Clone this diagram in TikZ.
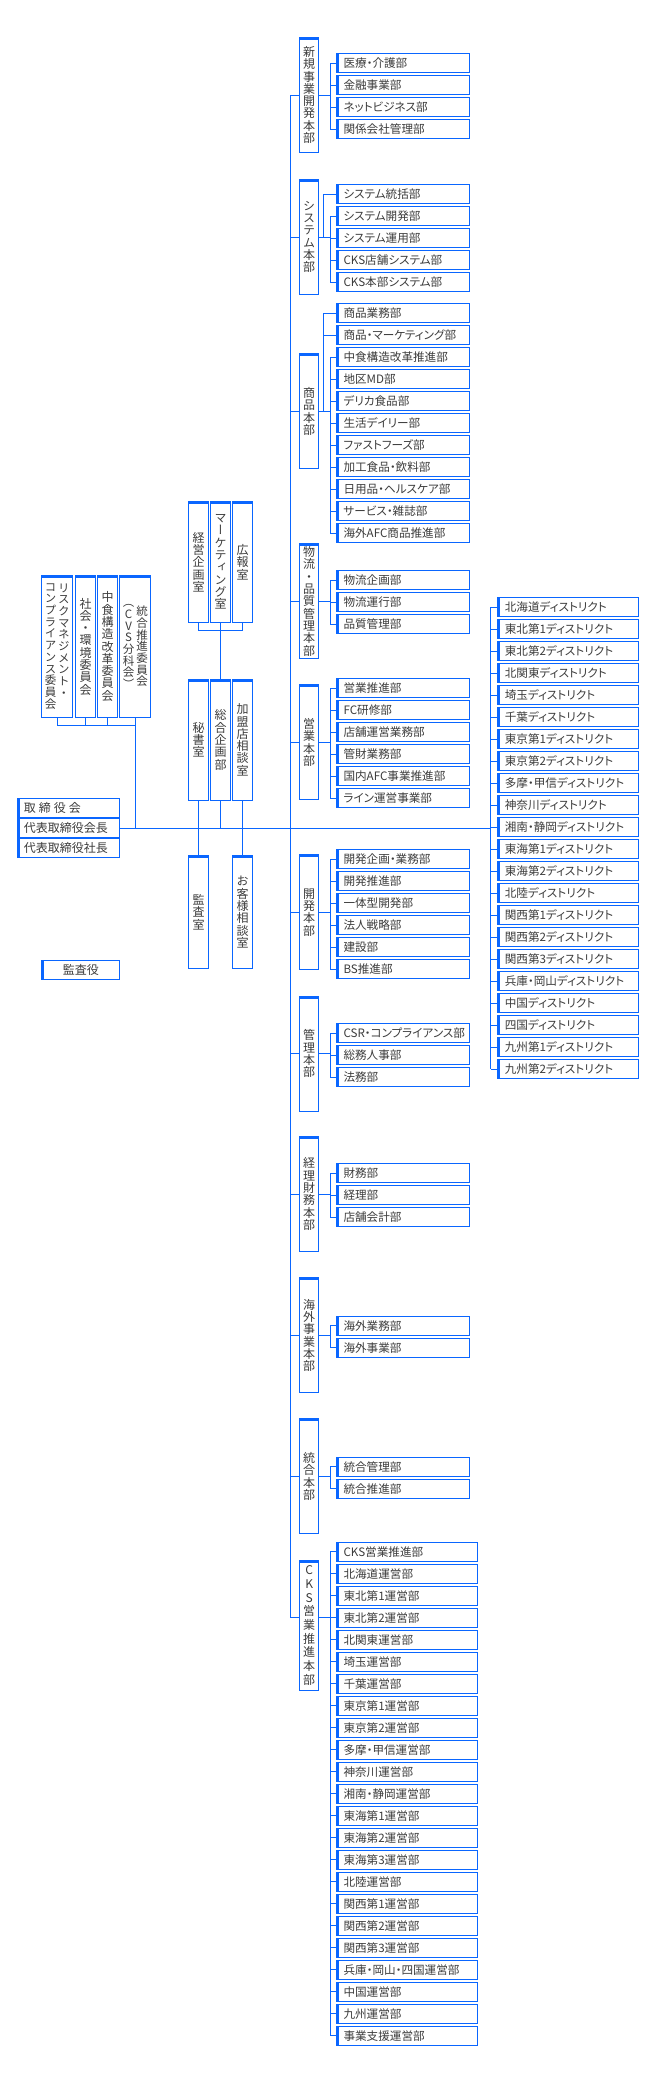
\documentclass[tikz,border=0pt]{standalone}
\usepackage{fontspec}
\usetikzlibrary{positioning}
\newfontfamily\jpfont[RawFeature={+palt}]{Noto Sans CJK JP}
\newfontfamily\vjpfont[RawFeature={+vert}]{Noto Sans CJK JP}
\definecolor{orgblue}{HTML}{0A66FF}
\definecolor{orggray}{HTML}{3C3C3C}

\begin{document}
\begin{tikzpicture}[x=1pt,y=-1pt,
    dept/.style={draw=orgblue,line width=1pt,anchor=north west,minimum height=19pt,
      text width=119pt,inner xsep=7pt,inner ysep=0pt,align=left,text=orggray,
      font=\jpfont\fontsize{11.6}{14}\selectfont,
      path picture={\fill[orgblue] (path picture bounding box.south west)
        rectangle ([xshift=2.5pt]path picture bounding box.north west);}},
    wide/.style={dept,text width=127.3pt},
    board/.style={dept,text width=89.2pt,inner xsep=6.7pt,font=\jpfont\fontsize{12}{14}\selectfont},
    vbox/.style={draw=orgblue,line width=1pt,anchor=north west,minimum width=19.4pt,
      inner sep=0pt,align=center,text=orggray,font=\vjpfont\fontsize{12}{12.3}\selectfont,
      path picture={\fill[orgblue] (path picture bounding box.north west)
        rectangle ([yshift=-2.5pt]path picture bounding box.north east);}},
    hq/.style={vbox,minimum height=115pt},
    vtext/.style={inner sep=0pt,align=center,text=orggray,font=\vjpfont\fontsize{11.5}{11.7}\selectfont},
    link/.style={draw=orgblue,line width=1pt}
  ]
    \fill[white] (0,0) rectangle (670,2075);
    \useasboundingbox (0,0) rectangle (670,2075);
    \coordinate (spine) at (290,0);
    \coordinate (bus) at (330,0);
    \coordinate (subbus) at (323.8,0);
    \coordinate (dbus) at (490.7,0);

    % board and auditor
    \node[board] (board1) at (16.7,798.3) {取\hspace{3pt}締\hspace{3pt}役\hspace{3pt}会};
    \node[board,below=0pt of board1] (board2) {代表取締役会長};
    \node[board,below=0pt of board2] (board3) {代表取締役社長};
    \node[board,text width=64.6pt,align=center] (auditor) at (41.3,960.3) {監査役};

    % committees
    \node[vbox,minimum width=31pt,minimum height=142.6pt] (riskc) at (41.3,574.7) {};
    \node[vtext,anchor=north] (riskc-r) at ([xshift=6.5pt,yshift=-8.5pt]riskc.north)
      {リ\\ス\\ク\\マ\\ネ\\ジ\\メ\\ン\\ト\\・};
    \node[vtext,anchor=north] (riskc-l) at ([xshift=-6.8pt,yshift=-8.5pt]riskc.north)
      {コ\\ン\\プ\\ラ\\イ\\ア\\ン\\ス\\委\\員\\会};
    \node[vbox,minimum height=142.6pt] (socialc) at (75.3,574.7) {社\\会\\・\\環\\境\\委\\員\\会};
    \node[vbox,minimum height=142.6pt] (reformc) at (97.3,574.7) {中\\食\\構\\造\\改\\革\\委\\員\\会};
    \node[vbox,minimum width=31pt,minimum height=142.6pt] (mergec) at (119.3,574.7) {};
    \node[vtext] (mergec-r) at ([xshift=6.7pt]mergec.center) {統\\合\\推\\進\\委\\員\\会};
    \node[vtext] (mergec-l) at ([xshift=-6.7pt]mergec.center) {（\\C\\V\\S\\分\\科\\会\\）};
    \draw[link] (riskc.south) -- ++(0,7) -| (mergec.south);
    \draw[link] (socialc.south) -- ++(0,7);
    \draw[link] (reformc.south) -- ++(0,7);
    \draw[link] (mergec.south) -- (mergec.south |- board2.east);

    % staff offices
    \node[vbox,minimum height=121.6pt] (planoff) at (188.3,500.7) {経\\営\\企\\画\\室};
    \node[vbox,minimum height=121.6pt] (mktoff) at (210.3,500.7) {マ\\ー\\ケ\\テ\\ィ\\ン\\グ\\室};
    \node[vbox,minimum height=121.6pt] (proff) at (232.3,500.7) {広\\報\\室};
    \node[vbox,minimum height=121.3pt] (secoff) at (188.3,678.7) {秘\\書\\室};
    \node[vbox,minimum height=121.3pt] (corpplan) at (210.3,678.7) {総\\合\\企\\画\\部};
    \node[vbox,minimum height=121.3pt] (fcoff) at (232.3,678.7) {加\\盟\\店\\相\\談\\室};
    \node[vbox,minimum height=113.3pt] (auditoff) at (188.3,855) {監\\査\\室};
    \node[vbox,minimum height=113.3pt] (custoff) at (232.3,855) {お\\客\\様\\相\\談\\室};
    \draw[link] (planoff.south) -- ++(0,7) -| (proff.south);
    \draw[link] (mktoff.south) -- (corpplan.north);
    \draw[link] (secoff.south) -- (auditoff.north);
    \draw[link] (corpplan.south) -- (corpplan.south |- board2.east);
    \draw[link] (fcoff.south) -- (custoff.north);

    \draw[link] (board2.east) -- (board2.east -| dbus);

    % headquarters
    \node[hq] (nbhq) at (299,37) {新\\規\\事\\業\\開\\発\\本\\部};
    \node[hq] (syhq) at (299,179) {シ\\ス\\テ\\ム\\本\\部};
    \node[hq] (shhq) at (299,353.3) {商\\品\\本\\部};
    \node[hq] (bthq) at (299,543.3) {物\\流\\・\\品\\質\\管\\理\\本\\部};
    \node[hq] (eghq) at (299,684.3) {営\\業\\本\\部};
    \node[hq] (khhq) at (299,854.3) {開\\発\\本\\部};
    \node[hq] (krhq) at (299,995.7) {管\\理\\本\\部};
    \node[hq] (kzhq) at (299,1136) {経\\理\\財\\務\\本\\部};
    \node[hq] (kghq) at (299,1277.3) {海\\外\\事\\業\\本\\部};
    \node[hq] (tghq) at (299,1418.3) {統\\合\\本\\部};
    \node[hq,minimum height=130pt,font=\vjpfont\fontsize{12}{13.7}\selectfont] (ckhq) at (299,1560)
      {C\\K\\S\\営\\業\\推\\進\\本\\部};

    \coordinate (ckjoin) at ([yshift=7.7pt]ckhq.west);
    \coordinate (ckout) at ([yshift=7.7pt]ckhq.east);
    \draw[link] (nbhq.west) -- (nbhq.west -| spine) -- (ckjoin -| spine) -- (ckjoin);
    \foreach \h in {syhq,shhq,bthq,eghq,khhq,krhq,kzhq,kghq,tghq}
      \draw[link] (\h.west) -- (\h.west -| spine);
    \foreach \h in {nbhq,syhq,shhq,bthq,eghq,khhq,krhq,kzhq,kghq,tghq}
      \draw[link] (\h.east) -- (\h.east -| bus);
    \draw[link] (ckout) -- (ckout -| bus);

    % departments
    \foreach \lbl [count=\i] in {医療・介護部,金融事業部,ネットビジネス部,関係会社管理部}
      \node[dept] (nb-\i) at (336,{53.3+22*(\i-1)}) {\lbl};
    \foreach \lbl [count=\i] in {システム統括部,システム開発部,システム運用部,CKS店舗システム部,CKS本部システム部}
      \node[dept] (sy-\i) at (336,{184+22*(\i-1)}) {\lbl};
    \foreach \lbl [count=\i] in {商品業務部,商品・マーケティング部,中食構造改革推進部,地区MD部,デリカ食品部,
        生活デイリー部,ファストフーズ部,加工食品・飲料部,日用品・ヘルスケア部,サービス・雑誌部,海外AFC商品推進部}
      \node[dept] (sh-\i) at (336,{303.3+22*(\i-1)}) {\lbl};
    \foreach \lbl [count=\i] in {物流企画部,物流運行部,品質管理部}
      \node[dept] (bt-\i) at (336,{570+22*(\i-1)}) {\lbl};
    \foreach \lbl [count=\i] in {営業推進部,FC研修部,店舗運営業務部,管財業務部,国内AFC事業推進部,ライン運営事業部}
      \node[dept] (eg-\i) at (336,{678.3+22*(\i-1)}) {\lbl};
    \foreach \lbl [count=\i] in {開発企画・業務部,開発推進部,一体型開発部,法人戦略部,建設部,BS推進部}
      \node[dept] (kh-\i) at (336,{849.3+22*(\i-1)}) {\lbl};
    \foreach \lbl [count=\i] in {CSR・コンプライアンス部,総務人事部,法務部}
      \node[dept] (kr-\i) at (336,{1023.3+22*(\i-1)}) {\lbl};
    \foreach \lbl [count=\i] in {財務部,経理部,店舗会計部}
      \node[dept] (kz-\i) at (336,{1163.3+22*(\i-1)}) {\lbl};
    \foreach \lbl [count=\i] in {海外業務部,海外事業部}
      \node[dept] (kg-\i) at (336,{1315.7+22*(\i-1)}) {\lbl};
    \foreach \lbl [count=\i] in {統合管理部,統合推進部}
      \node[dept] (tg-\i) at (336,{1456.7+22*(\i-1)}) {\lbl};
    \foreach \lbl [count=\i] in {CKS営業推進部,北海道運営部,東北第1運営部,東北第2運営部,北関東運営部,埼玉運営部,
        千葉運営部,東京第1運営部,東京第2運営部,多摩・甲信運営部,神奈川運営部,湘南・静岡運営部,東海第1運営部,
        東海第2運営部,東海第3運営部,北陸運営部,関西第1運営部,関西第2運営部,関西第3運営部,
        兵庫・岡山・四国運営部,中国運営部,九州運営部,事業支援運営部}
      \node[wide] (ck-\i) at (336,{1541.7+22*(\i-1)}) {\lbl};

    \foreach \g/\a/\n in {nb/1/4,sy/2/5,sh/3/11,bt/1/3,eg/1/6,kh/1/6,kr/1/3,kz/1/3,kg/1/2,tg/1/2,ck/1/23}{
      \draw[link] (\g-\a.west -| bus) -- (\g-\n.west -| bus);
      \foreach \i in {1,...,\n}
        \draw[link] (\g-\i.west) -- (\g-\i.west -| bus);
    }
    \draw[link] (syhq.east -| subbus) |- (sy-1.west);
    \draw[link] (shhq.east -| subbus) |- (sh-1.west);
    \draw[link] (sh-2.west -| subbus) -- (sh-2.west);

    % districts
    \foreach \lbl [count=\i] in {北海道ディストリクト,東北第1ディストリクト,東北第2ディストリクト,北関東ディストリクト,
        埼玉ディストリクト,千葉ディストリクト,東京第1ディストリクト,東京第2ディストリクト,多摩・甲信ディストリクト,
        神奈川ディストリクト,湘南・静岡ディストリクト,東海第1ディストリクト,東海第2ディストリクト,北陸ディストリクト,
        関西第1ディストリクト,関西第2ディストリクト,関西第3ディストリクト,兵庫・岡山ディストリクト,中国ディストリクト,
        四国ディストリクト,九州第1ディストリクト,九州第2ディストリクト}
      \node[wide,text width=127pt] (ds-\i) at (497.3,{597.3+22*(\i-1)}) {\lbl};
    \draw[link] (ds-1.west -| dbus) -- (ds-22.west -| dbus);
    \foreach \i in {1,...,22}
      \draw[link] (ds-\i.west) -- (ds-\i.west -| dbus);
  \end{tikzpicture}
\end{document}
